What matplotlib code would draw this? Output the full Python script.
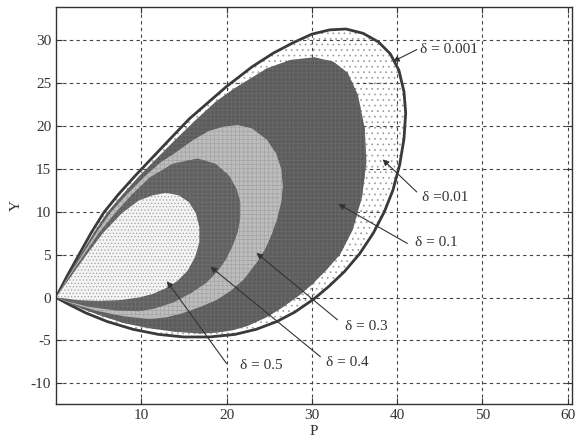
import matplotlib
matplotlib.use("Agg")
import matplotlib.pyplot as plt

plt.rcParams['font.family'] = ['Liberation Serif', 'DejaVu Serif']
plt.rcParams['hatch.linewidth'] = 0.5

# Outer boundary (delta = 0.001 line, delta = 0.01 dotted area)
p_outer = [0, 1.3, 2.7, 4.1, 5.6, 7.3, 9.2, 11.2, 13.3, 15.6, 17.8, 20, 23, 25.5, 27.8, 30, 32.1, 34,
           36, 37.8, 39.2, 40.2, 40.8, 41, 40.8, 40.3, 39.5, 38.5, 37.2, 35.6, 33.8, 32, 30.2,
           28, 25.9, 23.5, 21, 18, 15, 12, 9, 6, 3.5, 1.5, 0]
y_outer = [0, 2.5, 5, 7.5, 9.9, 12, 14.1, 16.2, 18.4, 20.8, 22.7, 24.6, 26.9, 28.5, 29.7, 30.7, 31.2, 31.3,
           30.8, 29.8, 28.4, 26.5, 24, 21.5, 18.5, 15.5, 12.5, 10, 7.5, 5.1, 3, 1.3, -0.2,
           -1.7, -2.8, -3.7, -4.3, -4.6, -4.6, -4.3, -3.7, -2.8, -1.8, -0.8, 0]

# delta = 0.1 (dark)
p_d01 = [0, 1.4, 2.9, 4.4, 6.0, 7.8, 9.7, 11.8, 14.0, 16.5, 18.7, 20.8, 24.7, 27.5, 30.3, 32.5,
         34.2, 35.4, 36.2, 36.4, 35.9, 34.8, 33.3, 31.7, 30, 28.6, 26.5, 24.7, 22.5, 20.8,
         18.8, 16.9, 14, 11, 8, 5.2, 3, 1.2]
y_d01 = [0, 2.5, 5, 7.5, 9.9, 12, 14.1, 16.2, 18.4, 20.8, 22.8, 24.3, 26.7, 27.7, 28, 27.5,
         26.2, 23.6, 19.7, 15.8, 11.8, 7.9, 5.0, 3.2, 1.5, 0.3, -1.2, -2.3, -3.3, -3.8,
         -4.1, -4.2, -4.0, -3.6, -3.0, -2.1, -1.3, -0.5]

# delta = 0.3 (light grey)
p_d03 = [0, 1.5, 3.1, 4.7, 6.4, 8.3, 10.4, 12.2, 13.9, 16, 17.9, 19.6, 21.3, 23, 24.7, 25.8, 26.4,
         26.6, 26.4, 25.9, 25.3, 24.6, 23.7, 22, 20.5, 18.8, 16.9, 14.9, 13, 11, 8, 5, 2.5, 1]
y_d03 = [0, 2.5, 5, 7.5, 9.9, 12, 14.1, 15.7, 16.8, 18.3, 19.4, 19.9, 20.1, 19.7, 18.4, 16.8, 15,
         13, 11.1, 9.1, 7.4, 5.8, 4.3, 2.1, 0.8, -0.3, -1.1, -1.8, -2.3, -2.5, -2.2, -1.6, -0.9, -0.4]

# delta = 0.4 (dark)
p_d04 = [0, 1.6, 3.3, 5.0, 6.9, 8.9, 11.0, 13.7, 16.6, 18.7, 20.3, 21.2, 21.6, 21.6, 21.3,
         20.7, 19.9, 18.9, 17.6, 15.8, 13.7, 11.5, 9.7, 7, 3.9, 1.5]
y_d04 = [0, 2.5, 5, 7.5, 9.8, 12.0, 14.0, 15.6, 16.2, 15.6, 14.2, 12.6, 11.1, 9.3, 7.6,
         6, 4.4, 3, 1.7, 0.5, -0.6, -1.3, -1.6, -1.5, -1.1, -0.5]

# delta = 0.5 (inner, dotted)
p_d05 = [0, 1.8, 3.6, 5.5, 7.7, 9.7, 11.3, 12.9, 14.4, 15.6, 16.4, 16.8, 16.8, 16.3, 15.4,
         14.2, 12.9, 11.3, 9.7, 7.5, 5, 2.5, 1]
y_d05 = [0, 2.5, 5, 7.5, 9.8, 11.3, 11.9, 12.2, 11.9, 11.1, 9.8, 8.2, 6.4, 4.7, 3.1,
         1.9, 1.1, 0.4, 0.0, -0.3, -0.4, -0.3, -0.1]

labels = ['δ = 0.001', 'δ =0.01', 'δ = 0.1', 'δ = 0.3', 'δ = 0.4', 'δ = 0.5']
label_pos = [(42.7, 28.9), (42.9, 11.7), (42.1, 6.4), (33.9, -3.4), (31.7, -7.6), (21.6, -7.9)]
line_start = [(42.3, 28.9), (42.3, 12.3), (41.2, 6.3), (33.0, -2.6), (31.0, -6.9), (20.0, -7.7)]
arrow_tip = [(39.5, 27.5), (38.3, 16.1), (33.1, 10.9), (23.5, 5.2), (18.1, 3.6), (13.0, 1.9)]

fig = plt.figure(figsize=(5.82, 4.47), dpi=100)
ax = fig.add_axes([56 / 582, 1 - 404.3 / 447, (572 - 56) / 582, (404.3 - 6.7) / 447])


def region(px, py, face, hatch=None, hcolor='#777777', z=1):
    ax.fill(px, py, facecolor=face, edgecolor='none', linewidth=0, zorder=z)
    if hatch:
        ax.fill(px, py, facecolor='none', edgecolor=hcolor, linewidth=0, hatch=hatch, zorder=z)


region(p_outer, y_outer, 'white', '...', '#9a9a9a', 1)
ax.plot(p_outer, y_outer, color='#3a3a3a', lw=2.0, zorder=1.5, solid_joinstyle='round')
region(p_d01, y_d01, '#5c5c5c', '++++', '#6c6c6c', 1.6)
region(p_d03, y_d03, '#bdbdbd', '++++', '#a4a4a4', 1.7)
region(p_d04, y_d04, '#606060', '++++', '#717171', 1.8)
region(p_d05, y_d05, '#f4f4f4', '.....', '#a0a0a0', 1.9)

for lab, lp, ls, tip in zip(labels, label_pos, line_start, arrow_tip):
    ax.annotate('', xy=tip, xytext=ls,
                arrowprops=dict(arrowstyle='-|>', color='#333333', lw=0.8,
                                mutation_scale=9, shrinkA=0, shrinkB=0), zorder=5)
    ax.text(lp[0], lp[1], lab, fontsize=11, color='#333333', ha='left', va='center', zorder=5)

ax.set_xlim(0, 60.5)
ax.set_ylim(-12.45, 33.9)
ax.set_xticks([10, 20, 30, 40, 50, 60])
ax.set_yticks([-10, -5, 0, 5, 10, 15, 20, 25, 30])
ax.set_yticklabels(['-10', '-5', '0', '5', '10', '15', '20', '25', '30'])
ax.grid(True, linestyle=(0, (3, 3)), color='#444444', lw=0.8)
ax.tick_params(direction='in', top=True, right=True, length=4, labelsize=11,
               labelcolor='#333333', color='#333333')
for s in ax.spines.values():
    s.set_color('#333333')
    s.set_linewidth(1.0)
ax.set_xlabel('P', fontsize=11, color='#333333', labelpad=2)
ax.set_ylabel('Y', fontsize=11, color='#333333', labelpad=6)

fig.savefig('out.png', dpi=100)
